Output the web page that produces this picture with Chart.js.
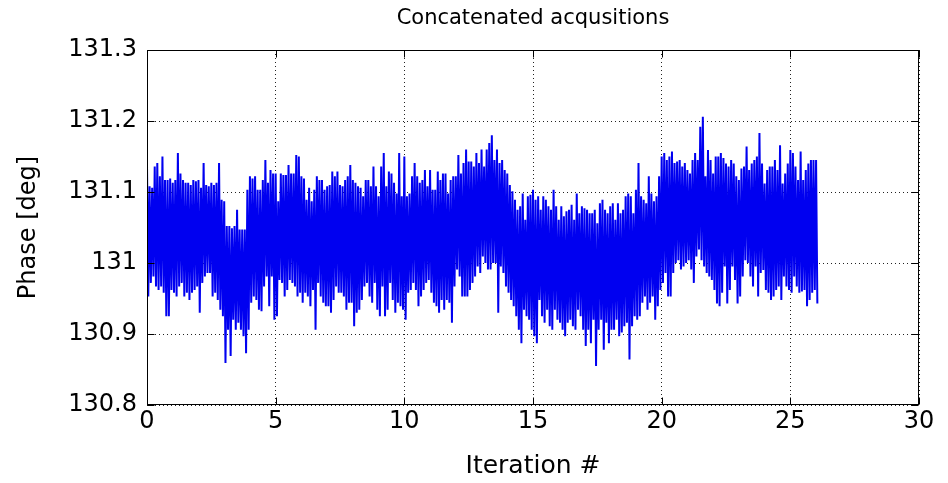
<!DOCTYPE html>
<html>
<head>
<meta charset="utf-8">
<title>Concatenated acqusitions</title>
<style>
  html, body { margin: 0; padding: 0; background: #ffffff; }
  canvas { display: block; }
</style>
<script src="https://cdn.jsdelivr.net/npm/chart.js@4.4.1/dist/chart.umd.min.js"></script>
</head>
<body>
<canvas id="phaseChart" width="948" height="483"></canvas>
<script>
// Acquisitions are 0.1 iteration apart; each one contributes its highest and
// lowest phase reading, drawn as a vertical swing of the trace.
const sampleStep = 0.1;

const upperPhase = [
  131.138, 131.108, 131.106, 131.136, 131.141, 131.122, 131.150, 131.117, 131.117, 131.119,
  131.113, 131.117, 131.155, 131.126, 131.117, 131.113, 131.113, 131.110, 131.117, 131.115,
  131.117, 131.106, 131.141, 131.110, 131.108, 131.113, 131.110, 131.113, 131.141, 131.089,
  131.087, 131.052, 131.052, 131.049, 131.052, 131.075, 131.047, 131.047, 131.047, 131.103,
  131.122, 131.119, 131.122, 131.103, 131.103, 131.117, 131.145, 131.113, 131.131, 131.126,
  131.126, 131.087, 131.126, 131.124, 131.124, 131.138, 131.126, 131.126, 131.152, 131.150,
  131.122, 131.119, 131.089, 131.106, 131.087, 131.103, 131.122, 131.117, 131.117, 131.103,
  131.108, 131.110, 131.129, 131.122, 131.129, 131.110, 131.108, 131.117, 131.122, 131.138,
  131.117, 131.113, 131.108, 131.106, 131.094, 131.117, 131.117, 131.108, 131.136, 131.108,
  131.094, 131.136, 131.155, 131.108, 131.129, 131.126, 131.113, 131.098, 131.155, 131.094,
  131.150, 131.094, 131.098, 131.122, 131.141, 131.122, 131.113, 131.117, 131.131, 131.108,
  131.131, 131.103, 131.103, 131.129, 131.117, 131.126, 131.126, 131.098, 131.117, 131.122,
  131.122, 131.152, 131.126, 131.141, 131.160, 131.143, 131.143, 131.136, 131.155, 131.141,
  131.160, 131.136, 131.160, 131.169, 131.180, 131.145, 131.160, 131.141, 131.145, 131.131,
  131.126, 131.110, 131.101, 131.089, 131.075, 131.080, 131.098, 131.061, 131.094, 131.096,
  131.103, 131.089, 131.094, 131.075, 131.094, 131.089, 131.080, 131.075, 131.103, 131.080,
  131.061, 131.080, 131.066, 131.073, 131.075, 131.082, 131.061, 131.098, 131.070, 131.080,
  131.077, 131.075, 131.070, 131.070, 131.075, 131.056, 131.084, 131.089, 131.075, 131.070,
  131.080, 131.084, 131.061, 131.084, 131.070, 131.075, 131.094, 131.098, 131.094, 131.070,
  131.103, 131.141, 131.094, 131.089, 131.084, 131.122, 131.098, 131.087, 131.094, 131.122,
  131.150, 131.155, 131.145, 131.150, 131.157, 131.141, 131.143, 131.145, 131.136, 131.141,
  131.131, 131.126, 131.145, 131.155, 131.145, 131.192, 131.206, 131.122, 131.159, 131.145,
  131.126, 131.150, 131.150, 131.155, 131.148, 131.140, 131.136, 131.145, 131.140, 131.122,
  131.117, 131.133, 131.136, 131.164, 131.131, 131.140, 131.145, 131.150, 131.183, 131.140,
  131.112, 131.131, 131.136, 131.136, 131.145, 131.131, 131.166, 131.112, 131.126, 131.140,
  131.159, 131.155, 131.136, 131.117, 131.157, 131.117, 131.131, 131.140, 131.145, 131.145,
  131.145
];

const lowerPhase = [
  130.953, 130.972, 130.981, 130.967, 130.962, 130.967, 130.958, 130.925, 130.925, 130.962,
  130.958, 130.953, 130.967, 130.972, 130.953, 130.958, 130.948, 130.958, 130.962, 130.967,
  130.930, 130.972, 130.981, 130.986, 130.986, 130.953, 130.958, 130.948, 130.934, 130.925,
  130.859, 130.906, 130.869, 130.920, 130.906, 130.916, 130.906, 130.897, 130.873, 130.906,
  130.944, 130.953, 130.948, 130.934, 130.932, 130.967, 130.981, 130.939, 130.981, 130.920,
  130.925, 130.976, 130.972, 130.953, 130.962, 130.976, 130.972, 130.967, 130.953, 130.958,
  130.944, 130.958, 130.953, 130.939, 130.962, 130.906, 130.972, 130.953, 130.944, 130.939,
  130.939, 130.930, 130.948, 130.967, 130.958, 130.958, 130.953, 130.934, 130.944, 130.944,
  130.911, 130.930, 130.934, 130.948, 130.967, 130.972, 130.953, 130.944, 130.972, 130.934,
  130.925, 130.967, 130.925, 130.934, 130.972, 130.948, 130.930, 130.944, 130.939, 130.934,
  130.920, 130.958, 130.962, 130.972, 130.962, 130.939, 130.953, 130.962, 130.972, 130.976,
  130.958, 130.944, 130.939, 130.930, 130.948, 130.934, 130.948, 130.944, 130.916, 130.967,
  130.991, 130.981, 130.953, 130.953, 130.953, 130.962, 130.972, 130.981, 130.995, 130.986,
  131.009, 131.000, 130.991, 130.991, 131.000, 131.000, 130.930, 130.995, 130.986, 130.967,
  130.958, 130.948, 130.939, 130.925, 130.906, 130.887, 130.934, 130.925, 130.920, 130.906,
  130.897, 130.887, 130.948, 130.925, 130.916, 130.934, 130.911, 130.906, 130.934, 130.920,
  130.916, 130.906, 130.897, 130.916, 130.920, 130.911, 130.906, 130.934, 130.925, 130.906,
  130.883, 130.906, 130.887, 130.920, 130.855, 130.906, 130.920, 130.878, 130.916, 130.887,
  130.906, 130.906, 130.920, 130.897, 130.902, 130.911, 130.916, 130.864, 130.911, 130.925,
  130.920, 130.925, 130.944, 130.953, 130.934, 130.944, 130.953, 130.920, 130.939, 130.962,
  130.972, 130.986, 130.953, 130.953, 130.986, 131.000, 131.004, 130.991, 130.995, 131.000,
  131.004, 130.991, 130.972, 131.009, 131.019, 131.004, 130.995, 130.986, 130.981, 130.976,
  130.962, 130.943, 130.939, 130.958, 130.995, 130.943, 130.962, 130.995, 130.976, 130.943,
  130.953, 130.981, 131.004, 131.000, 130.981, 130.967, 130.995, 130.953, 130.986, 130.990,
  130.962, 130.958, 130.948, 130.953, 130.962, 130.967, 130.948, 130.981, 130.967, 130.962,
  130.958, 130.981, 130.967, 130.958, 130.960, 130.962, 130.939, 130.948, 130.958, 130.962,
  130.943
];

const xTicks = [0, 5, 10, 15, 20, 25, 30];
const xTickLabels = ['0', '5', '10', '15', '20', '25', '30'];
const yTicks = [130.8, 130.9, 131, 131.1, 131.2, 131.3];
const yTickLabels = ['130.8', '130.9', '131', '131.1', '131.2', '131.3'];

// Trace: each acquisition swings from its high reading to its low reading.
const tracePoints = [];
upperPhase.forEach((hi, i) => {
  const it = i * sampleStep;
  tracePoints.push({ x: it, y: hi });
  tracePoints.push({ x: it + sampleStep / 2, y: lowerPhase[i] });
});

const FONT = 'DejaVu Sans';
Chart.defaults.font.family = FONT;
Chart.defaults.color = '#000000';

// Closed axes box with inward tick marks on all four sides.
const axesBox = {
  id: 'axesBox',
  afterDatasetsDraw(chart) {
    const { ctx, chartArea: a, scales: { x, y } } = chart;
    const L = Math.round(a.left) + 0.5;
    const R = Math.round(a.right) - 0.5;
    const T = Math.round(a.top) + 0.5;
    const B = Math.round(a.bottom) - 0.5;
    const len = 7;
    ctx.save();
    ctx.strokeStyle = '#000000';
    ctx.lineWidth = 1;
    ctx.setLineDash([]);
    ctx.strokeRect(L, T, R - L, B - T);
    ctx.beginPath();
    x.ticks.forEach(t => {
      const px = Math.round(x.getPixelForValue(t.value)) + 0.5;
      ctx.moveTo(px, B); ctx.lineTo(px, B - len);
      ctx.moveTo(px, T); ctx.lineTo(px, T + len);
    });
    y.ticks.forEach(t => {
      const py = Math.round(y.getPixelForValue(t.value)) + 0.5;
      ctx.moveTo(L, py); ctx.lineTo(L + len, py);
      ctx.moveTo(R, py); ctx.lineTo(R - len, py);
    });
    ctx.stroke();
    ctx.restore();
  }
};

new Chart(document.getElementById('phaseChart'), {
  type: 'line',
  data: {
    datasets: [{
      data: tracePoints,
      borderColor: '#0000f0',
      borderWidth: 2,
      borderJoinStyle: 'bevel',
      pointRadius: 0,
      fill: false,
      // a vanishing tension keeps the segments straight while every point is stroked
      tension: 0.000001
    }]
  },
  options: {
    responsive: false,
    animation: false,
    events: [],
    layout: { padding: { left: 0, right: 29, top: 0, bottom: 0 } },
    plugins: {
      legend: { display: false },
      tooltip: { enabled: false },
      title: {
        display: true,
        text: 'Concatenated acqusitions',
        fullSize: false,
        color: '#000000',
        font: { family: FONT, size: 21, weight: 'normal', lineHeight: 1.2 },
        padding: { top: 6, bottom: 18.8 }
      }
    },
    scales: {
      x: {
        type: 'linear',
        min: 0,
        max: 30,
        afterBuildTicks: s => { s.ticks = xTicks.map(v => ({ value: v })); },
        afterFit: s => { s.height = 78; },
        grid: { color: '#222222', lineWidth: 1, drawTicks: false },
        border: { display: false, dash: [1, 3] },
        ticks: {
          autoSkip: false,
          maxRotation: 0,
          padding: 5,
          color: '#000000',
          font: { family: FONT, size: 24, lineHeight: 1 },
          callback: (v, i) => xTickLabels[i]
        },
        title: {
          display: true,
          text: 'Iteration #',
          color: '#000000',
          font: { family: FONT, size: 25, lineHeight: 1.2 },
          padding: { top: 0, bottom: 2 }
        }
      },
      y: {
        type: 'linear',
        min: 130.8,
        max: 131.3,
        afterBuildTicks: s => { s.ticks = yTicks.map(v => ({ value: v })); },
        afterFit: s => { s.width = 147; },
        grid: { color: '#222222', lineWidth: 1, drawTicks: false },
        border: { display: false, dash: [1, 3] },
        ticks: {
          padding: 10,
          color: '#000000',
          font: { family: FONT, size: 24, lineHeight: 1 },
          callback: (v, i) => yTickLabels[i]
        },
        title: {
          display: true,
          text: 'Phase [deg]',
          color: '#000000',
          font: { family: FONT, size: 24, lineHeight: 1.2 },
          padding: { top: 14, bottom: 0 }
        }
      }
    }
  },
  plugins: [axesBox]
});
</script>
</body>
</html>
